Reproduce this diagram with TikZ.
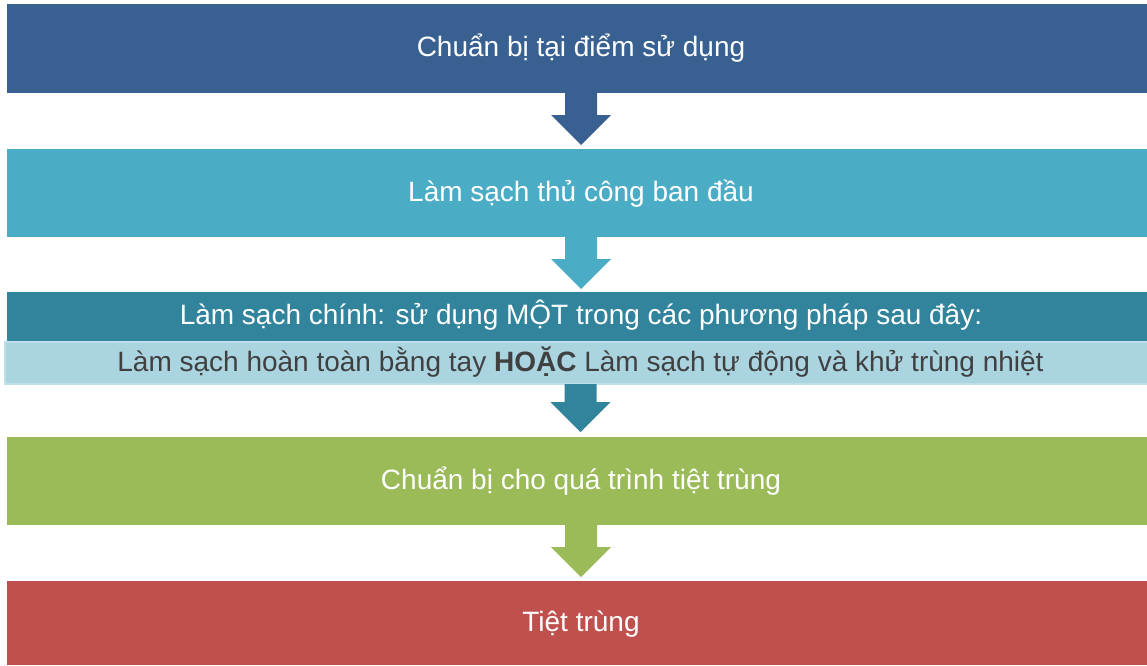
\documentclass[tikz,border=0pt]{standalone}
\usepackage{fontspec}
\setmainfont{Liberation Sans}
\usetikzlibrary{calc}
\definecolor{cA}{HTML}{386192}
\definecolor{cB}{HTML}{4BACC6}
\definecolor{cC}{HTML}{31849B}
\definecolor{cD}{HTML}{9BBB59}
\definecolor{cE}{HTML}{C0504D}
\definecolor{cL}{HTML}{AAD4E0}
\definecolor{cLb}{HTML}{BFE0EA}
\definecolor{tg}{HTML}{404040}
\begin{document}
\begin{tikzpicture}[x=1pt,y=-1pt,
  box/.style={anchor=north west,inner sep=0pt,outer sep=0pt,minimum width=1148pt,
    text=white,font=\fontsize{28}{32}\selectfont,text height=20pt,text depth=4pt}]
\useasboundingbox (0,0) rectangle (1147,665);
\node[box,fill=cA,minimum height=89pt] (b1) at (7,4) {Chuẩn bị tại điểm sử dụng};
\node[box,fill=cB,minimum height=88pt] (b2) at (7,149) {Làm sạch thủ công ban đầu};
\node[box,fill=cC,minimum height=49pt] (b3) at (7,292) {Làm sạch chính: sử dụng MỘT trong các phương pháp sau đây:};
\node[box,fill=cL,draw=cLb,line width=2pt,minimum width=1151pt,minimum height=42pt,text=tg] (b3l) at (5,342)
  {Làm sạch hoàn toàn bằng tay \textbf{HOẶC} Làm sạch tự động và khử trùng nhiệt};
\node[box,fill=cD,minimum height=88pt] (b4) at (7,437) {Chuẩn bị cho quá trình tiệt trùng};
\node[box,fill=cE,minimum height=84pt] (b5) at (7,581) {Tiệt trùng};
% block arrows
\newcommand{\blockarr}[4]{%
  \fill[#1] ($(#2.south)+(-16,0)$) -- ($(#2.south)+(-16,#3)$) -- ($(#2.south)+(-30,#3)$)
    -- ($(#2.south)+(0,#3+30)$) -- ($(#2.south)+(30,#3)$) -- ($(#2.south)+(16,#3)$)
    -- ($(#2.south)+(16,0)$) -- cycle;}
\blockarr{cA}{b1}{22}{b2}
\blockarr{cB}{b2}{22}{b3}
\blockarr{cC}{b3l}{18}{b4}
\blockarr{cD}{b4}{22}{b5}
\end{tikzpicture}
\end{document}
